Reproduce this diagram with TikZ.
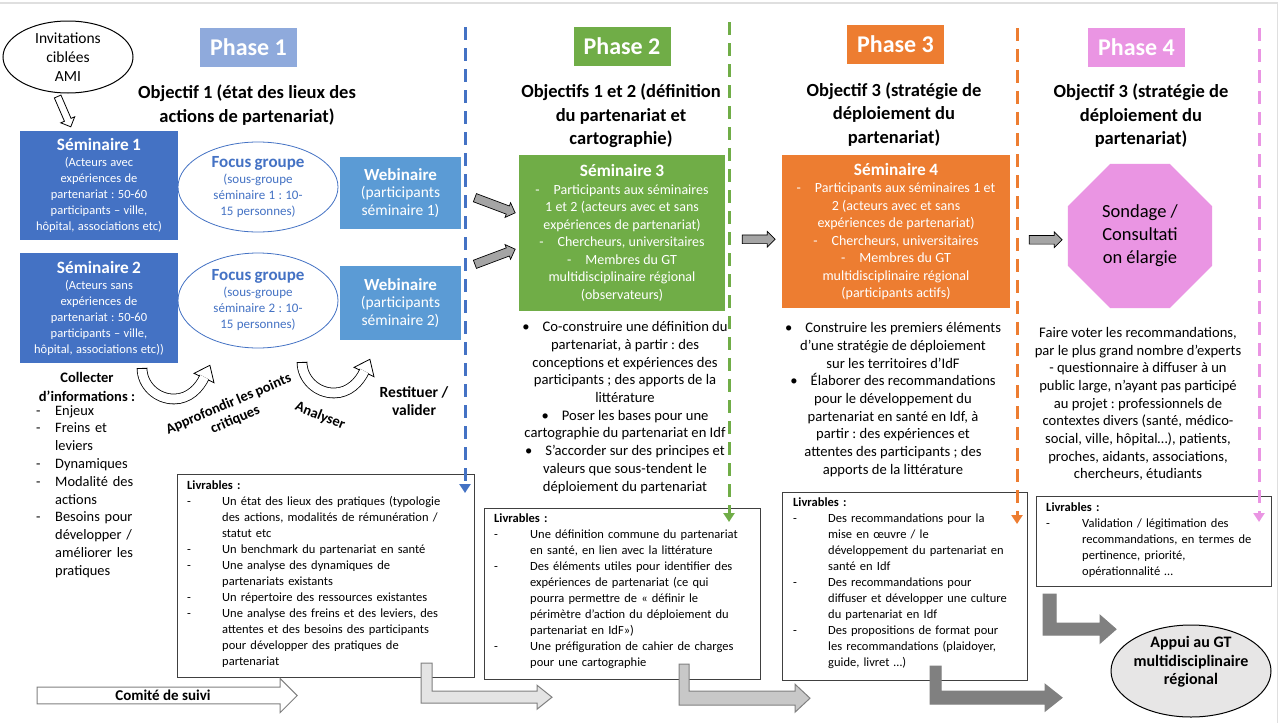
\documentclass[tikz,border=0pt]{standalone}
\usepackage{fontspec}
\setmainfont{Carlito}
\usetikzlibrary{arrows.meta,shapes.geometric,shapes.arrows,calc}
\definecolor{semblue}{HTML}{4472C4}
\definecolor{webblue}{HTML}{5B9BD5}
\definecolor{phblue}{HTML}{8FAADC}
\definecolor{phgreen}{HTML}{70AD47}
\definecolor{phorange}{HTML}{ED7D31}
\definecolor{phpink}{HTML}{EA95E3}
\definecolor{appuigray}{HTML}{E7E6E6}
\definecolor{arrowgray}{HTML}{A5A5A5}
\definecolor{darkarrow}{HTML}{808080}
\definecolor{lightarrow}{HTML}{E4E4E4}
\definecolor{midarrow}{HTML}{C8C8C8}
\newcommand{\fsz}[2]{\fontsize{#1}{#2}\selectfont}
\newcommand{\lvi}[1][35pt]{\makebox[#1][l]{-}}
\newcommand{\lvc}[1][35pt]{\hspace*{#1}}
\newcommand{\bul}{\textbullet\hspace{13pt}}
\tikzset{
  uturn/.pic={
    \filldraw[fill=white,draw=black,line width=0.8pt] (34.1,11.9) -- (40,14.7) -- (35.9,-2.7) -- (20,5.35) -- (25.9,8.1) -- cycle;
    \draw[line width=0.8pt,double=white,double distance=9pt] (-32,0) .. controls (-32,17) and (-17.5,31) .. (0,31) .. controls (15,31) and (25.4,19.9) .. (30.4,9.1);
    \draw[line width=0.8pt] (-37.3,0) -- (-26.7,0);
  }
}
\frenchspacing

\begin{document}
\begin{tikzpicture}[x=1pt,y=-1pt,
  phase/.style={fill=#1,text=white,font=\fsz{24}{28}\bfseries,minimum width=97pt,minimum height=39pt,inner sep=0pt},
  objt/.style={font=\fsz{18.5}{23.5}\bfseries,align=center,inner sep=0pt},
  sembox/.style={fill=#1,text=white,align=center,inner sep=0pt},
  focus/.style={ellipse,draw=semblue,line width=0.8pt,fill=white,text=semblue,align=center,minimum width=160pt,inner sep=0pt,text width=110pt},
  bullets/.style={font=\fsz{14.6}{17.7},align=center,inner sep=0pt},
  livbox/.style={draw=black!75,line width=1.2pt,fill=white,anchor=north west,inner sep=0pt},
  livtxt/.style={anchor=north west,inner sep=0pt,font=\fsz{12.5}{16},align=left,text width=#1},
  grayarrow/.style={single arrow,draw=black,fill=arrowgray,line width=0.7pt,minimum height=#1,single arrow head extend=3.5pt,inner xsep=0pt,inner ysep=4pt},
  larrow/.style={fill=#1,draw=darkarrow,line width=1pt},
  dashline/.style={draw=#1,line width=3pt,dash pattern=on 13pt off 8pt,-{Triangle[width=11pt,length=9pt]}}
]
\fill[white] (0,0) rectangle (1279,723);
\useasboundingbox (0,0) rectangle (1279,723);
\draw[gray!25,line width=1.5pt] (0,3) -- (1277.5,3) -- (1277.5,723);

\node[ellipse,draw=black,line width=1pt,fill=white,minimum width=130pt,minimum height=72pt,inner sep=0pt,align=center,font=\fsz{15.5}{19}] (invit) at (68,57) {Invitations\\ciblées\\AMI};
\node[single arrow,draw=black,fill=white,line width=0.8pt,minimum height=33pt,single arrow head extend=4pt,inner xsep=0pt,inner ysep=3.2pt,rotate=-66.6] (invarrow) at (63.5,110) {};

\node[phase=phblue] (ph1) at (248.5,47.5) {Phase 1};
\node[phase=phgreen] (ph2) at (622,46) {Phase 2};
\node[phase=phorange] (ph3) at (895.5,44) {Phase 3};
\node[phase=phpink] (ph4) at (1136.5,47.5) {Phase 4};

\node[objt] (obj1) at (247,105) {Objectif 1 (état des lieux des\\actions de partenariat)};
\node[objt] (obj2) at (621,116) {Objectifs 1 et 2 (définition\\du partenariat et\\cartographie)};
\node[objt] (obj3) at (894,114.5) {Objectif 3 (stratégie de\\déploiement du\\partenariat)};
\node[objt] (obj4) at (1141,116) {Objectif 3 (stratégie de\\déploiement du\\partenariat)};

\node[sembox=semblue,minimum width=158pt,minimum height=109pt,text width=154pt] (sem1) at (99,185.5) {{\fsz{17.3}{19}\bfseries Séminaire 1\par}{\fsz{12.5}{16}(Acteurs avec\\expériences de\\partenariat : 50-60\\participants – ville,\\hôpital, associations etc)\par}};
\node[sembox=semblue,minimum width=158pt,minimum height=110pt,text width=154pt] (sem2) at (99,308) {{\fsz{17.3}{19}\bfseries Séminaire 2\par}{\fsz{12.5}{16}(Acteurs sans\\expériences de\\partenariat : 50-60\\participants – ville,\\hôpital, associations etc))\par}};
\node[focus,minimum height=90pt] (foc1) at (258,187) {{\fsz{17}{19}\bfseries Focus groupe\par}{\fsz{13}{16}(sous-groupe\\séminaire 1 : 10-\\15 personnes)\par}};
\node[focus,minimum height=95pt] (foc2) at (258,300.5) {{\fsz{17}{19}\bfseries Focus groupe\par}{\fsz{13}{16}(sous-groupe\\séminaire 2 : 10-\\15 personnes)\par}};
\node[sembox=webblue,minimum width=121pt,minimum height=72pt,text width=117pt] (web1) at (400.5,193) {{\fsz{17}{19}\bfseries Webinaire\par}{\fsz{15.5}{17.7}(participants\\séminaire 1)\par}};
\node[sembox=webblue,minimum width=121pt,minimum height=74pt,text width=117pt] (web2) at (400.5,303) {{\fsz{17}{19}\bfseries Webinaire\par}{\fsz{15.5}{17.7}(participants\\séminaire 2)\par}};

\node[sembox=phgreen,minimum width=206pt,minimum height=156pt,text width=204pt] (sem3) at (622,233) {{\fsz{17.3}{19}\bfseries Séminaire 3\par}{\fsz{14}{17.5}-\quad Participants aux séminaires\\1 et 2 (acteurs avec et sans\\expériences de partenariat)\\-\quad Chercheurs, universitaires\\-\quad Membres du GT\\multidisciplinaire régional\\(observateurs)\par}};
\node[sembox=phorange,minimum width=228pt,minimum height=153pt,text width=226pt] (sem4) at (896,231.5) {{\fsz{17.3}{19}\bfseries Séminaire 4\par}{\fsz{14}{17.5}-\quad Participants aux séminaires 1 et\\2 (acteurs avec et sans\\expériences de partenariat)\\-\quad Chercheurs, universitaires\\-\quad Membres du GT\\multidisciplinaire régional\\(participants actifs)\par}};
\node[regular polygon,regular polygon sides=8,fill=phpink,minimum size=156pt,inner sep=0pt,align=center,font=\fsz{18.5}{23}] (sond) at (1140,236) {Sondage /\\Consultati\\on élargie};

\node[grayarrow=43pt,rotate=-20.6] (ga1) at ($(web1.east)!.5!(sem3.west)+(3,-8.5)$) {};
\node[grayarrow=43pt,rotate=20.6] (ga2) at ($(web2.east)!.5!(sem3.west)+(3,-10.5)$) {};
\node[grayarrow=33pt] (ga3) at ($(sem3.east)!.5!(sem4.west)+(3,7)$) {};
\node[grayarrow=33pt] (ga4) at ($(sem4.east)!.5!(sond.west)+(4.5,6)$) {};

\node[bullets] (obj2list) at (625,407.5) {\bul Co-construire une définition du\\partenariat, à partir : des\\conceptions et expériences des\\participants ; des apports de la\\littérature\\\bul Poser les bases pour une\\cartographie du partenariat en Idf\\\bul S’accorder sur des principes et\\valeurs que sous-tendent le\\déploiement du partenariat};
\node[bullets] (obj3list) at (893,399.5) {\bul Construire les premiers éléments\\d’une stratégie de déploiement\\sur les territoires d’IdF\\\bul Élaborer des recommandations\\pour le développement du\\partenariat en santé en Idf, à\\partir : des expériences et\\attentes des participants ; des\\apports de la littérature};
\node[bullets] (obj4list) at (1138,404) {Faire voter les recommandations,\\par le plus grand nombre d’experts\\- questionnaire à diffuser à un\\public large, n’ayant pas participé\\au projet : professionnels de\\contextes divers (santé, médico-\\social, ville, hôpital…), patients,\\proches, aidants, associations,\\chercheurs, étudiants};

\node[font=\fsz{14.5}{19}\bfseries,align=center,inner sep=0pt] (colt) at (87,386.5) {Collecter\\d’informations :};
\node[anchor=north west,inner sep=0pt,font=\fsz{14.4}{17.8},align=left,text width=100pt] (coll) at (36,405) {\lvi[19pt]Enjeux\\\lvi[19pt]Freins et\\\lvc[19pt]leviers\\\lvi[19pt]Dynamiques\\\lvi[19pt]Modalité des\\\lvc[19pt]actions\\\lvi[19pt]Besoins pour\\\lvc[19pt]développer /\\\lvc[19pt]améliorer les\\\lvc[19pt]pratiques};

\pic at (174,368) {uturn};
\pic at (334,362) {uturn};
\node[font=\fsz{14.5}{17}\bfseries,align=center,rotate=23,inner sep=0pt] (approf) at (232,412) {Approfondir les points\\critiques};
\node[font=\fsz{14.5}{15}\bfseries,rotate=-22,inner sep=0pt] (analy) at (320,416) {Analyser};
\node[font=\fsz{15.5}{18}\bfseries,align=center,inner sep=0pt] (restit) at (414,401) {Restituer /\\valider};

\node[livbox,minimum width=297pt,minimum height=203pt] (liv1) at (177,474) {};
\node[livtxt=285pt] (liv1t) at ($(liv1.north west)+(10,7)$) {\textbf{Livrables :}\\\lvi Un état des lieux des pratiques (typologie\\\lvc des actions, modalités de rémunération /\\\lvc statut etc\\\lvi Un benchmark du partenariat en santé\\\lvi Une analyse des dynamiques de\\\lvc partenariats existants\\\lvi Un répertoire des ressources existantes\\\lvi Une analyse des freins et des leviers, des\\\lvc attentes et des besoins des participants\\\lvc pour développer des pratiques de\\\lvc partenariat};
\node[livbox,minimum width=276pt,minimum height=171pt] (liv2) at (484,508) {};
\node[livtxt=266pt] (liv2t) at ($(liv2.north west)+(10,6)$) {\textbf{Livrables :}\\\lvi[36pt]Une définition commune du partenariat\\\lvc[36pt]en santé, en lien avec la littérature\\\lvi[36pt]Des éléments utiles pour identifier des\\\lvc[36pt]expériences de partenariat (ce qui\\\lvc[36pt]pourra permettre de « définir le\\\lvc[36pt]périmètre d’action du déploiement du\\\lvc[36pt]partenariat en IdF»)\\\lvi[36pt]Une préfiguration de cahier de charges\\\lvc[36pt]pour une cartographie};
\node[livbox,minimum width=245pt,minimum height=188pt] (liv3) at (782,492) {};
\node[livtxt=234pt] (liv3t) at ($(liv3.north west)+(11,6)$) {\textbf{Livrables :}\\\lvi Des recommandations pour la\\\lvc mise en œuvre / le\\\lvc développement du partenariat en\\\lvc santé en Idf\\\lvi Des recommandations pour\\\lvc diffuser et développer une culture\\\lvc du partenariat en Idf\\\lvi Des propositions de format pour\\\lvc les recommandations (plaidoyer,\\\lvc guide, livret …)};
\node[livbox,minimum width=235pt,minimum height=90pt] (liv4) at (1036,496) {};
\node[livtxt=224pt] (liv4t) at ($(liv4.north west)+(10,7)$) {\textbf{Livrables :}\\\lvi[36pt]Validation / légitimation des\\\lvc[36pt]recommandations, en termes de\\\lvc[36pt]pertinence, priorité,\\\lvc[36pt]opérationnalité …};

\coordinate (la1) at ($(liv1.south west)+(244,-15)$);
\filldraw[larrow=lightarrow] (la1) -- ++(11,0) -- ++(0,28) -- ++(105,0) -- ++(0,-6) -- ++(15,12) -- ++(-15,12) -- ++(0,-6) -- ++(-116,0) -- cycle;
\coordinate (la2) at ($(liv2.south west)+(195,-16)$);
\filldraw[larrow=midarrow] (la2) -- ++(10,0) -- ++(0,27) -- ++(106,0) -- ++(0,-7) -- ++(15,14) -- ++(-15,14) -- ++(0,-7) -- ++(-116,0) -- cycle;
\coordinate (la3) at ($(liv3.south west)+(148,-15)$);
\filldraw[larrow=darkarrow] (la3) -- ++(11,0) -- ++(0,25) -- ++(104,0) -- ++(0,-7) -- ++(17,13.5) -- ++(-17,13.5) -- ++(0,-7) -- ++(-115,0) -- cycle;
\coordinate (la4) at ($(liv4.south west)+(7,7)$);
\filldraw[larrow=darkarrow] (la4) -- ++(13,0) -- ++(0,29) -- ++(44,0) -- ++(0,-8) -- ++(16,14) -- ++(-16,14) -- ++(0,-8) -- ++(-57,0) -- cycle;

\node[single arrow,draw=darkarrow,fill=white,line width=1pt,minimum height=260pt,minimum width=34pt,single arrow head extend=8.5pt,inner xsep=0pt,inner ysep=2.5pt,font=\fsz{15}{16}\bfseries] (comite) at (163,695.5) {Comité de suivi};
\node[ellipse,draw=black,line width=1pt,fill=appuigray,minimum width=160pt,minimum height=92pt] (appui) at (1191,671) {};
\node[align=center,font=\fsz{16}{18.5}\bfseries,inner sep=0pt] (appuit) at (1191,662) {Appui au GT\\multidisciplinaire\\régional};

\coordinate (d1a) at (465,27);
\coordinate (d1b) at (465,493);
\coordinate (d2a) at (729,22);
\coordinate (d2b) at (729,522);
\coordinate (d3a) at (1017,28);
\coordinate (d3b) at (1017,524);
\coordinate (d4a) at (1259,28);
\coordinate (d4b) at (1259,522);
\draw[dashline=semblue] (d1a) -- (d1b);
\draw[dashline=phgreen] (d2a) -- (d2b);
\draw[dashline=phorange] (d3a) -- (d3b);
\draw[dashline=phpink] (d4a) -- (d4b);
\end{tikzpicture}
\end{document}
